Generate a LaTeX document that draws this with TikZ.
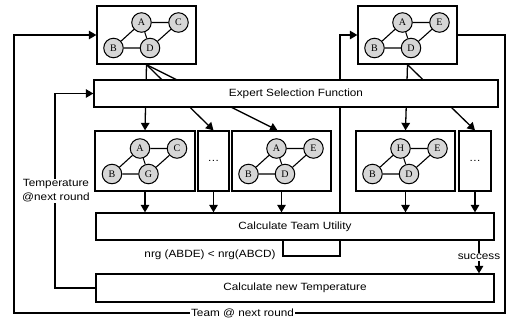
\documentclass[tikz,border=0pt]{standalone}
\usepackage{fontspec}
\setmainfont{Liberation Sans}[FakeStretch=1.12]
\newfontfamily\gfont{Liberation Serif}
\usetikzlibrary{arrows.meta,calc}
\pgfdeclarelayer{bg}
\pgfsetlayers{bg,main}
\definecolor{nodegray}{HTML}{D6D6D6}
\tikzset{
  box/.style={draw, line width=1.3pt, fill=white, inner sep=0pt, font=\fontsize{10.5}{14}\selectfont},
  gnode/.style={circle, draw, line width=1pt, fill=nodegray, minimum size=19.5pt, inner sep=0pt, font=\gfont\fontsize{10}{10}\selectfont},
  conn/.style={line width=1.3pt},
  gedge/.style={line width=1.1pt},
  arr/.style={conn, -{Triangle[length=7.5pt,width=8.5pt]}},
  lbl/.style={font=\fontsize{10.5}{14}\selectfont, fill=white, inner sep=1pt}
}
\newcommand\mygraph[5]{%
  \node[gnode] (#1a) at ($(#1)+(-5,-12.5)$) {#2};
  \node[gnode] (#1c) at ($(#1)+(32,-12.5)$) {#3};
  \node[gnode] (#1b) at ($(#1)+(-33,13)$) {#4};
  \node[gnode] (#1d) at ($(#1)+(3.5,13)$) {#5};
  \draw[gedge] (#1a)--(#1c) (#1a)--(#1b) (#1a)--(#1d) (#1b)--(#1d) (#1c)--(#1d);
}
\begin{document}
\begin{tikzpicture}[x=1pt,y=-1pt]
\useasboundingbox (0,0) rectangle (517,322);
% boxes
\node[box, minimum width=99pt, minimum height=58pt] (tl) at (146.5,35) {};
\node[box, minimum width=99pt, minimum height=58pt] (tr) at (407.5,35) {};
\node[box, minimum width=404pt, minimum height=27pt] (esf) at (296,93.5) {Expert Selection Function};
\node[box, minimum width=100pt, minimum height=60pt] (b1) at (145,161) {};
\node[box, minimum width=31pt, minimum height=60pt] (b2) at (213.5,161) {\ldots};
\node[box, minimum width=99pt, minimum height=60pt] (b3) at (281.5,161) {};
\node[box, minimum width=99pt, minimum height=60pt] (b4) at (405.5,161) {};
\node[box, minimum width=32pt, minimum height=60pt] (b5) at (475,161) {\ldots};
\node[box, minimum width=398pt, minimum height=27pt] (ctu) at (295,226.5) {Calculate Team Utility};
\node[box, minimum width=398pt, minimum height=28pt] (cnt) at (295,288) {Calculate new Temperature};
% graphs
\mygraph{tl}{A}{C}{B}{D}
\mygraph{tr}{A}{E}{B}{D}
\mygraph{b1}{A}{C}{B}{G}
\mygraph{b3}{A}{E}{B}{D}
\mygraph{b4}{H}{E}{B}{D}
% coordinates
\coordinate (p1) at (283,256);
\coordinate (p2) at (340,256);
\coordinate (s) at (479,257);
\coordinate (lx) at (55,0);
\coordinate (oxr) at (505,0);
\coordinate (oxl) at (14,0);
\coordinate (ob) at (0,313);
% connectors behind boxes
\begin{pgfonlayer}{bg}
\draw[arr] (tl.south) -- (b1.north);
\draw[arr] (tl.south) -- (b2.north);
\draw[arr] (tl.south) -- ([xshift=-4pt]b3.north);
\draw[arr] (tr.south) -- (b4.north);
\draw[arr] (tr.south) -- (b5.north);
\draw[arr] (p1 |- ctu.south) -- (p1) -- (p2) -- (p2 |- tr.west) -- (tr.west);
\end{pgfonlayer}
% direct arrows
\draw[arr] (b1.south) -- (b1.south |- ctu.north);
\draw[arr] (b2.south) -- (b2.south |- ctu.north);
\draw[arr] (b3.south) -- (b3.south |- ctu.north);
\draw[arr] (b4.south) -- (b4.south |- ctu.north);
\draw[arr] (b5.south) -- (b5.south |- ctu.north);
\draw[arr] (s |- ctu.south) -- (s |- cnt.north);
\node[lbl] (succ) at (s) {success};
\draw[arr] (cnt.west) -- (cnt.west -| lx) -- (lx |- esf.west) -- (esf.west);
\node[lbl, align=center] (temp) at (56,191) {Temperature\\@next round};
\draw[arr] (tr.east) -- (tr.east -| oxr) -- (oxr |- ob) -- (oxl |- ob) -- (oxl |- tl.west) -- (tl.west);
\node[lbl] (team) at (242.5,313) {Team @ next round};
\node[font=\fontsize{10.5}{14}\selectfont, inner sep=0pt] (nrg) at (210,255) {nrg (ABDE) < nrg(ABCD)};
\end{tikzpicture}
\end{document}
